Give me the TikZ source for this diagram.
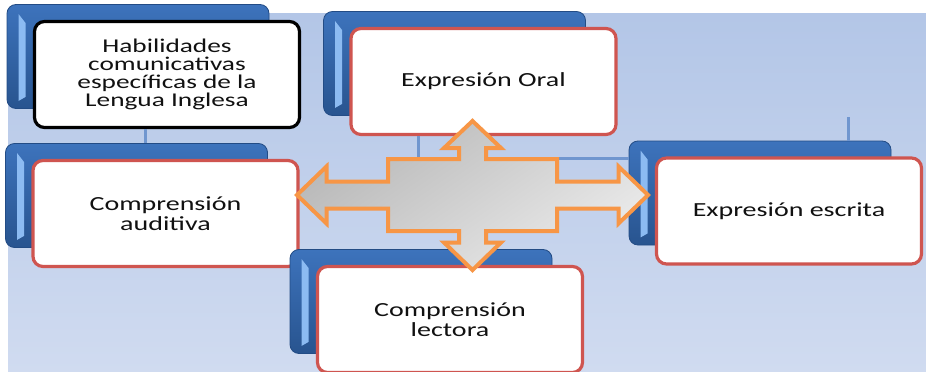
\documentclass[tikz,border=0pt]{standalone}
\usepackage{fontspec}
\newfontfamily\cardfont[FakeStretch=1.4]{Carlito}
\usepackage{tikz}
\usetikzlibrary{positioning}
\usetikzlibrary{calc}
\definecolor{cardred}{HTML}{CF5550}
\definecolor{crossorange}{HTML}{F79646}
\definecolor{tabtop}{HTML}{3D73BC}
\definecolor{tabbot}{HTML}{28548F}
\definecolor{tabline}{HTML}{234C85}
\definecolor{tablight}{HTML}{8CBBF2}
\definecolor{bgtop}{HTML}{B3C6E7}
\definecolor{bgbot}{HTML}{D0DBF0}
\definecolor{linkblue}{HTML}{7096CF}
\definecolor{cardtext}{HTML}{111111}
\tikzstyle{tab}=[rounded corners=9pt,draw=tabline,line width=0.8pt,top color=tabtop,bottom color=tabbot,minimum width=262pt,minimum height=104pt,inner sep=0pt]
\tikzstyle{card}=[rounded corners=10pt,draw=cardred,line width=3.2pt,fill=white,minimum width=265pt,minimum height=106pt,align=center,text=cardtext,font=\cardfont\fontsize{20}{20}\selectfont]
\tikzstyle{rootcard}=[card,draw=black,line width=3.2pt,font=\cardfont\fontsize{19.5}{17.8}\selectfont]
\tikzstyle{link}=[draw=linkblue,line width=3pt]
\tikzstyle{crossarrow}=[draw=crossorange,line width=4pt,line join=miter,top color=black!28,bottom color=black!8,shading angle=35]

\begin{document}
\begin{tikzpicture}[x=1pt,y=-1pt]
   \useasboundingbox (0,0) rectangle (926,372);
   \fill[top color=bgtop, bottom color=bgbot] (8,13) rectangle (926,372);

    % tabs and cards
    \foreach \name/\px/\py/\sty/\txt in {root/167/74.5/rootcard/{Habilidades\\comunicativas\\específicas de la\\Lengua Inglesa},
        oral/483.5/81.5/card/{Expresión Oral},
        auditiva/165.5/213.5/card/{Comprensión\\auditiva},
        escrita/789/211/card/{Expresión escrita},
        lectora/450/319.5/card/{Comprensión\\lectora}}
    {
        \node[tab] (\name tab) at (\px-29,\py-18) {};
        \fill[tablight] ($(\name tab.north west)+(12,10)$) -- ($(\name tab.north west)+(19,19)$)
            -- ($(\name tab.south west)+(19,-12)$) -- ($(\name tab.south west)+(12,-8)$) -- cycle;
        \node[\sty] (\name) at (\px,\py) {\txt};
    }

    % connectors
    \coordinate (branch) at (418,158);
    \coordinate (stub) at (848,117);
    \path[link] ([xshift=-22pt]root.south) -- ([xshift=-22pt]root.south |- auditivatab.north);
    \path[link] (oral.south -| branch) -- (branch) -- (branch -| escritatab.west);
    \path[link] (stub) -- (stub |- escritatab.north);

    % four-way arrow
    \begin{scope}[shift={(472.5,195)}]
        \draw[crossarrow] (0,-74) -- (28.5,-47) -- (13.5,-47) -- (13.5,-36) -- (84.5,-36) -- (84.5,-13.5)
            -- (146,-13.5) -- (146,-28.5) -- (175.5,0) -- (146,28.5) -- (146,13.5) -- (84.5,13.5)
            -- (84.5,36) -- (13.5,36) -- (13.5,47.5) -- (28.5,47.5) -- (0,75) -- (-28.5,47.5)
            -- (-13.5,47.5) -- (-13.5,36) -- (-84.5,36) -- (-84.5,13.5) -- (-146,13.5) -- (-146,28.5)
            -- (-175.5,0) -- (-146,-28.5) -- (-146,-13.5) -- (-84.5,-13.5) -- (-84.5,-36) -- (-13.5,-36)
            -- (-13.5,-47) -- (-28.5,-47) -- cycle;
    \end{scope}
\end{tikzpicture}
\end{document}
